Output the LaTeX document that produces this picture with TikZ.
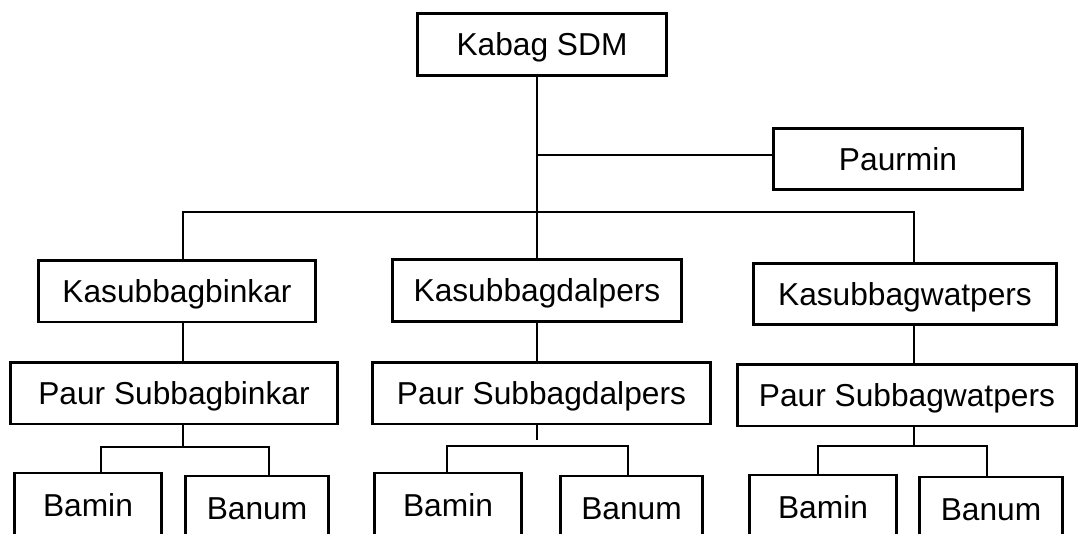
\documentclass[tikz,border=0pt]{standalone}
\usepackage{fontspec}
\setmainfont{Liberation Sans}
\begin{document}
\begin{tikzpicture}[x=0.5pt, y=-0.5pt,
		kotak/.style={draw, line width=1.3pt, inner sep=0pt, minimum height=30.7pt,
			text height=11.35pt, text depth=0pt, font=\fontsize{15.85pt}{19pt}\selectfont},
		garis/.style={line width=0.65pt}]
		\useasboundingbox (0,0) rectangle (1083,534);
		\clip (0,0) rectangle (1083,534);

		% pimpinan
		\node[kotak, minimum width=124.7pt, minimum height=31.2pt] (kabag) at (542,44.5) {Kabag SDM};
		\node[kotak, minimum width=124.7pt] (paurmin) at (898,159) {Paurmin};

		% kasubbag
		\node[kotak, minimum width=138.7pt] (binkar) at (177,291.5) {Kasubbagbinkar};
		\node[kotak, minimum width=144.7pt, minimum height=31.2pt] (dalpers) at (537,290.5) {Kasubbagdalpers};
		\node[kotak, minimum width=151.7pt] (watpers) at (905,294) {Kasubbagwatpers};

		% paur subbag
		\node[kotak, minimum width=163.7pt] (paurbinkar) at (174,393.5) {Paur Subbagbinkar};
		\node[kotak, minimum width=169.2pt] (paurdalpers) at (541.5,393.5) {Paur Subbagdalpers};
		\node[kotak, minimum width=169.7pt] (paurwatpers) at (907,395.5) {Paur Subbagwatpers};

		% bamin & banum
		\node[kotak, minimum width=73.7pt, minimum height=32pt] (bamin1) at (88,505) {Bamin};
		\node[kotak, minimum width=71.7pt, minimum height=32pt] (banum1) at (257,508) {Banum};
		\node[kotak, minimum width=73.7pt, minimum height=32pt] (bamin2) at (448,505) {Bamin};
		\node[kotak, minimum width=71.2pt, minimum height=32pt] (banum2) at (631.5,508) {Banum};
		\node[kotak, minimum width=73.7pt, minimum height=32pt] (bamin3) at (823,507) {Bamin};
		\node[kotak, minimum width=71.7pt, minimum height=32pt] (banum3) at (991,509) {Banum};

		% titik cabang
		\coordinate (cab0) at (537,155);
		\coordinate (kol1) at (183,212);
		\coordinate (kol2) at (537,212);
		\coordinate (kol3) at (914,212);
		\coordinate (sub1a) at (101,447);
		\coordinate (sub1b) at (269,447);
		\coordinate (sub2a) at (447,446);
		\coordinate (sub2b) at (628,446);
		\coordinate (ujung2) at (537,440);
		\coordinate (sub3a) at (818,446);
		\coordinate (sub3b) at (987,446);

		% garis atas
		\draw[garis] (kabag.south -| kol2) -- (kol2 |- dalpers.north);
		\draw[garis] (cab0) -- (cab0 -| paurmin.west);
		\draw[garis] (kol1 |- binkar.north) -- (kol1) -- (kol3) -- (kol3 |- watpers.north);

		% binkar
		\draw[garis] (kol1 |- binkar.south) -- (kol1 |- paurbinkar.north);
		\draw[garis] (kol1 |- paurbinkar.south) -- (kol1 |- sub1a);
		\draw[garis] (sub1a |- bamin1.north) -- (sub1a) -- (sub1b) -- (sub1b |- banum1.north);

		% dalpers
		\draw[garis] (kol2 |- dalpers.south) -- (kol2 |- paurdalpers.north);
		\draw[garis] (kol2 |- paurdalpers.south) -- (ujung2);
		\draw[garis] (sub2a |- bamin2.north) -- (sub2a) -- (sub2b) -- (sub2b |- banum2.north);

		% watpers
		\draw[garis] (kol3 |- watpers.south) -- (kol3 |- paurwatpers.north);
		\draw[garis] (kol3 |- paurwatpers.south) -- (kol3 |- sub3a);
		\draw[garis] (sub3a |- bamin3.north) -- (sub3a) -- (sub3b) -- (sub3b |- banum3.north);
	\end{tikzpicture}
\end{document}
